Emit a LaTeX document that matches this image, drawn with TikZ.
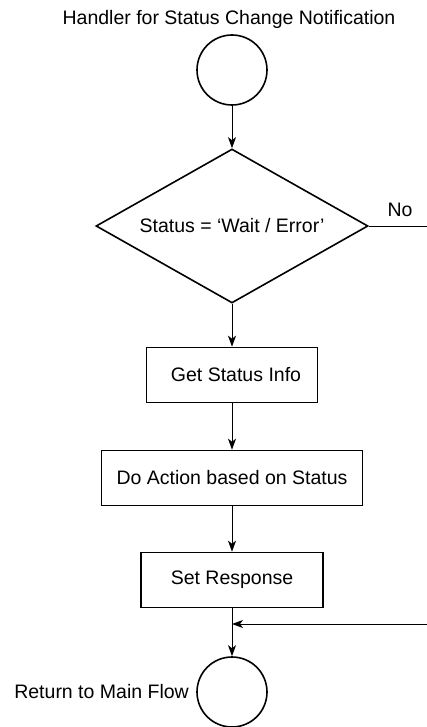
\documentclass[tikz,border=0pt]{standalone}
\usepackage{fontspec}
\setmainfont{Liberation Sans}
\usetikzlibrary{shapes.geometric,arrows.meta}
\begin{document}
\begin{tikzpicture}[x=1pt,y=-1pt,
  every node/.style={font=\fontsize{19.5}{22}\selectfont, inner sep=0pt},
  term/.style={circle, draw, line width=1.6pt, minimum size=70pt},
  procbox/.style={rectangle, draw, line width=1.6pt, minimum height=55pt},
  decis/.style={diamond, draw, line width=1.6pt, minimum width=272pt, minimum height=154pt, aspect=1.77},
  flow/.style={line width=1pt, -{Stealth[length=11pt,width=8pt,inset=3pt]}},
  plain/.style={line width=1pt}]
\useasboundingbox (0,0) rectangle (427,727);
\node (title) at (229,19) {Handler for Status Change Notification};
\node[term] (start) at (232,70) {};
\node[decis] (dec) at (232,226) {Status = ‘Wait / Error’};
\node (no) at (400,210) {No};
\node[procbox, minimum width=171pt] (get) at (232,375) {\hspace*{8pt}Get Status Info};
\node[procbox, minimum width=261pt] (act) at (232,478) {Do Action based on Status};
\node[procbox, minimum width=182pt] (set) at (232,580) {Set Response};
\node[term] (end) at (232,692) {};
\node[anchor=east] (ret) at (189,692) {Return to Main Flow};
\coordinate (noend) at (427,226);
\coordinate (back) at (427,624);
\coordinate (join) at (232,624);
\draw[flow] (start) -- (dec.north);
\draw[plain] (dec.east) -- (noend);
\draw[flow] (dec.south) -- (get);
\draw[flow] (get) -- (act);
\draw[flow] (act) -- (set);
\draw[flow] (set) -- (end);
\draw[flow] (back) -- (join);
\end{tikzpicture}
\end{document}
